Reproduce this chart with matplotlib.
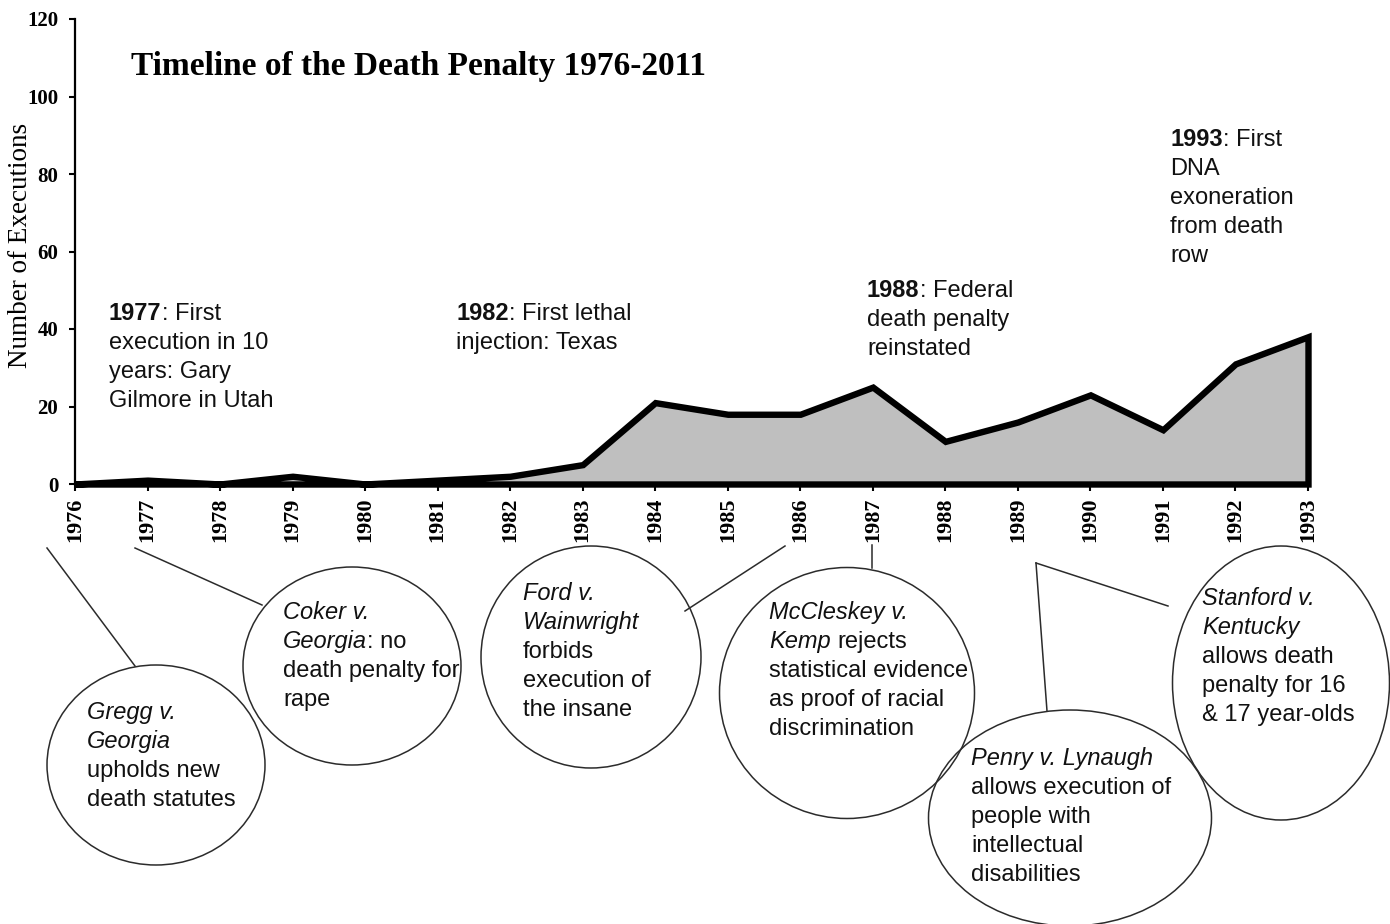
import matplotlib
matplotlib.use("Agg")
import matplotlib.pyplot as plt
from matplotlib.patches import Ellipse

# ---------------- data ----------------
years = list(range(1976, 1994))
executions = [0, 1, 0, 2, 0, 1, 2, 5, 21, 18, 18, 25, 11, 16, 23, 14, 31, 38]
y_ticks = [0, 20, 40, 60, 80, 100, 120]
title = "Timeline of the Death Penalty 1976-2011"
y_label = "Number of Executions"

# event notes above the series: (segments per line), style codes: b=bold, r=regular, i=italic
note_1977 = [[("1977", "b"), (": First", "r")], [("execution in 10", "r")],
             [("years: Gary", "r")], [("Gilmore in Utah", "r")]]
note_1982 = [[("1982", "b"), (": First lethal", "r")], [("injection: Texas", "r")]]
note_1988 = [[("1988", "b"), (": Federal", "r")], [("death penalty", "r")],
             [("reinstated", "r")]]
note_1993 = [[("1993", "b"), (": First", "r")], [("DNA", "r")], [("exoneration", "r")],
             [("from death", "r")], [("row", "r")]]

# court cases in bubbles
case_gregg = [[("Gregg v.", "i")], [("Georgia", "i")], [("upholds new", "r")],
              [("death statutes", "r")]]
case_coker = [[("Coker v.", "i")], [("Georgia", "i"), (": no", "r")],
              [("death penalty for", "r")], [("rape", "r")]]
case_ford = [[("Ford v.", "i")], [("Wainwright", "i")], [("forbids", "r")],
             [("execution of", "r")], [("the insane", "r")]]
case_mccleskey = [[("McCleskey v.", "i")], [("Kemp", "i"), (" rejects", "r")],
                  [("statistical evidence", "r")], [("as proof of racial", "r")],
                  [("discrimination", "r")]]
case_penry = [[("Penry v. Lynaugh", "i")], [("allows execution of", "r")],
              [("people with", "r")], [("intellectual", "r")], [("disabilities", "r")]]
case_stanford = [[("Stanford v.", "i")], [("Kentucky", "i")], [("allows death", "r")],
                 [("penalty for 16", "r")], [("& 17 year-olds", "r")]]

# ---------------- figure ----------------
W, H = 1390, 924
fig = plt.figure(figsize=(W / 100, H / 100), dpi=100)
fig.patch.set_facecolor("white")

SERIF = "Liberation Serif"
SANS = "Liberation Sans"

ax = fig.add_axes([75 / W, 1 - 484 / H, (1308 - 75) / W, (484 - 19) / H])
ax.fill_between(years, executions, 0, facecolor="#bfbfbf", edgecolor="black",
                linewidth=4.6, joinstyle="miter", clip_on=False, zorder=3)
ax.set_xlim(years[0], years[-1])
ax.set_ylim(y_ticks[0], y_ticks[-1])
ax.set_xticks(years)
ax.set_xticklabels([str(y) for y in years], rotation=90, fontfamily=SERIF,
                   fontweight="bold", fontsize=16)
ax.set_yticks(y_ticks)
ax.set_yticklabels([str(v) for v in y_ticks], fontfamily=SERIF, fontweight="bold",
                   fontsize=15)
ax.tick_params(axis="x", direction="out", length=5, width=1.5, pad=5)
ax.tick_params(axis="y", direction="out", length=4, width=1.5, pad=8)
for s in ["top", "right"]:
    ax.spines[s].set_visible(False)
for s in ["left", "bottom"]:
    ax.spines[s].set_linewidth(1.6)
ax.set_facecolor("none")

# overlay in pixel coordinates
ov = fig.add_axes([0, 0, 1, 1], facecolor="none")
ov.set_xlim(0, W)
ov.set_ylim(H, 0)
ov.axis("off")

renderer = fig.canvas.get_renderer()
FS = 17


def rich_block(x, y0, lines, size=FS, spacing=28.9):
    for k, segs in enumerate(lines):
        cx = x
        y = y0 + k * spacing
        for txt, st in segs:
            if txt.startswith(" "):
                cx += 0.278 * size * 100 / 72.0
                txt = txt.lstrip()
            t = ov.text(cx, y, txt, fontsize=size, family=SANS,
                        fontweight="bold" if st == "b" else "normal",
                        fontstyle="italic" if st == "i" else "normal",
                        va="baseline", ha="left", color="#111111")
            bb = t.get_window_extent(renderer=renderer)
            cx += bb.width


ov.text(131, 75, title, fontsize=24, family=SERIF, fontweight="bold",
        va="baseline", ha="left")
ov.text(21, 245, y_label, fontsize=19.5, family=SERIF, rotation=90,
        va="center", ha="center")

rich_block(109, 320, note_1977)
rich_block(456, 320, note_1982)
rich_block(867, 297, note_1988)
rich_block(1170, 146, note_1993)

# bubbles: (center x, center y, width, height)
ell_style = dict(fill=False, edgecolor="#2b2b2b", linewidth=1.1)
for cx, cy, w, h in [(156, 765, 218, 200), (352, 666, 218, 198),
                     (591, 657, 220, 222), (847, 693, 255, 251),
                     (1070, 818, 283, 216), (1281, 683, 217, 274)]:
    ov.add_patch(Ellipse((cx, cy), w, h, **ell_style))

line_style = dict(color="#2b2b2b", linewidth=1.1)
for (x1, y1), (x2, y2) in [((47, 548), (135, 666)), ((135, 548), (262, 605)),
                           ((785, 546), (685, 611)), ((872, 545), (872, 568)),
                           ((1036, 563), (1047, 711)), ((1036, 563), (1168, 606))]:
    ov.plot([x1, x2], [y1, y2], **line_style)

rich_block(87, 719, case_gregg)
rich_block(283, 619, case_coker)
rich_block(523, 600, case_ford)
rich_block(769, 619, case_mccleskey)
rich_block(971, 765, case_penry)
rich_block(1202, 605, case_stanford)

fig.savefig("out.png", dpi=100)
